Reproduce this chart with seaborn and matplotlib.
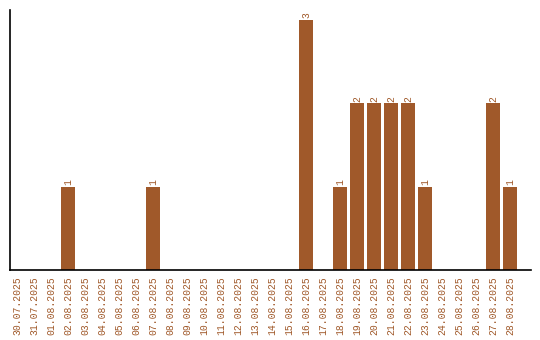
import matplotlib
matplotlib.use("Agg")
import matplotlib.pyplot as plt
import seaborn as sns
import pandas as pd

dates = ["30.07.2025", "31.07.2025", "01.08.2025", "02.08.2025", "03.08.2025",
         "04.08.2025", "05.08.2025", "06.08.2025", "07.08.2025", "08.08.2025",
         "09.08.2025", "10.08.2025", "11.08.2025", "12.08.2025", "13.08.2025",
         "14.08.2025", "15.08.2025", "16.08.2025", "17.08.2025", "18.08.2025",
         "19.08.2025", "20.08.2025", "21.08.2025", "22.08.2025", "23.08.2025",
         "24.08.2025", "25.08.2025", "26.08.2025", "27.08.2025", "28.08.2025"]
counts = [0, 0, 0, 1, 0, 0, 0, 0, 1, 0,
          0, 0, 0, 0, 0, 0, 0, 3, 0, 1,
          2, 2, 2, 2, 1, 0, 0, 0, 2, 1]

color = "#A0592A"
sns.set_style("white")
plt.rcParams["font.family"] = ["Liberation Mono", "DejaVu Sans Mono"]

df = pd.DataFrame({"date": dates, "count": counts})
fig = plt.figure(figsize=(5.4, 3.4), dpi=100)
ax = fig.add_axes([10/540, 70/340, 521/540, 260/340])
sns.barplot(data=df, x="date", y="count", color=color, saturation=1,
            width=14/17, linewidth=0, edgecolor="none", ax=ax)

for i, v in enumerate(counts):
    if v > 0:
        ax.text(i, v + 0.02, str(v), rotation=90, ha="center", va="bottom",
                fontsize=7, color=color)

ax.set_xlim(-0.41, 30.24)
ax.set_ylim(0, 3.12)
ax.set_xlabel("")
ax.set_ylabel("")
ax.set_yticks([])
ax.tick_params(axis="x", length=0, pad=4.5, labelsize=7, labelcolor=color)
for lbl in ax.get_xticklabels():
    lbl.set_rotation(90)
for s in ["top", "right"]:
    ax.spines[s].set_visible(False)
for s in ["left", "bottom"]:
    ax.spines[s].set_color("black")
    ax.spines[s].set_linewidth(1.2)

fig.savefig("out.png", dpi=100)
